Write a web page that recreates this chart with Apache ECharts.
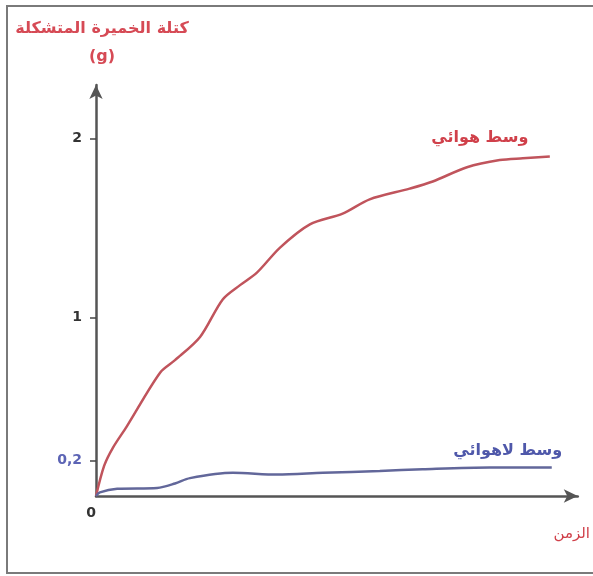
<!DOCTYPE html>
<html><head><meta charset="utf-8">
<script src="https://cdn.jsdelivr.net/npm/echarts@6/dist/echarts.min.js"></script>
<style>html,body{margin:0;padding:0;background:#fff}#c{width:593px;height:576px}</style>
</head><body><div id="c"></div>
<script>
// time (arbitrary units) and yeast mass (g)
const aerobicTime = [0, 1.7, 3.5, 6.4, 13.3, 16.4, 21.6, 26.3, 29.9, 33.4, 38.2, 44.4, 51.2, 56.8, 65.1, 69.9, 77.0, 83.8, 88.6, 94.2];
const aerobicMass = [0, 0.17, 0.27, 0.39, 0.69, 0.76, 0.89, 1.10, 1.18, 1.25, 1.39, 1.52, 1.58, 1.66, 1.72, 1.76, 1.84, 1.88, 1.89, 1.90];
const anaerobicTime = [0, 0.8, 4.4, 12.7, 16.4, 19.5, 28.4, 37.6, 47.1, 58.9, 67.8, 81.7, 94.6];
const anaerobicMass = [0, 0.02, 0.04, 0.045, 0.07, 0.10, 0.13, 0.12, 0.13, 0.14, 0.15, 0.16, 0.16];
const yTickValues = [0.2, 1, 2];
const yTickLabels = {0.2: '0,2', 1: '1', 2: '2'};
const aerobicName = 'وسط هوائي';
const anaerobicName = 'وسط لاهوائي';
const yAxisTitle = 'كتلة الخميرة المتشكلة\n(g)';
const xAxisTitle = 'الزمن';

const zip = (a, b) => a.map((v, i) => [v, b[i]]);
const FONT = 'DejaVu Sans';
const chart = echarts.init(document.getElementById('c'));
chart.setOption({
  animation: false,
  backgroundColor: '#fff',
  graphic: [{
    type: 'rect', shape: {x: 7, y: 6, width: 600, height: 567},
    style: {fill: 'none', stroke: '#7a7a7a', lineWidth: 2}
  }],
  grid: {left: 96, right: 15, top: 85, bottom: 80},
  xAxis: {
    type: 'value', min: 0, max: 100,
    name: xAxisTitle, nameLocation: 'end', nameGap: -6,
    nameTextStyle: {color: '#d0404a', fontFamily: FONT, fontSize: 15, align: 'center', verticalAlign: 'top', padding: [31, 0, 0, 0]},
    axisLine: {lineStyle: {color: '#555', width: 2.5}, symbol: ['none', 'arrow'], symbolSize: [10, 14]},
    axisTick: {show: false},
    axisLabel: {customValues: [0], align: 'right', margin: 10, color: '#333', fontWeight: 'bold', fontFamily: FONT, fontSize: 14, formatter: v => String(v)},
    splitLine: {show: false}
  },
  yAxis: {
    type: 'value', min: 0, max: 2.3,
    name: yAxisTitle, nameLocation: 'end', nameGap: 14,
    nameTextStyle: {color: '#d64a55', fontFamily: FONT, fontWeight: 'bold', fontSize: 16, lineHeight: 28, align: 'center', padding: [0, 0, 0, 12]},
    axisLine: {lineStyle: {color: '#555', width: 2.5}, symbol: ['none', 'arrow'], symbolSize: [10, 14]},
    axisTick: {customValues: yTickValues, length: 6, lineStyle: {color: '#444', width: 1.5}},
    axisLabel: {
      customValues: yTickValues, margin: 14, fontFamily: FONT, fontWeight: 'bold', fontSize: 14,
      formatter: v => v === 0.2 ? '{b|' + yTickLabels[v] + '}' : '{k|' + yTickLabels[v] + '}',
      rich: {b: {color: '#5c64b5', fontWeight: 'bold', fontFamily: FONT, fontSize: 14},
             k: {color: '#333', fontWeight: 'bold', fontFamily: FONT, fontSize: 14}}
    },
    splitLine: {show: false}
  },
  series: [{
    name: aerobicName, type: 'line', data: zip(aerobicTime, aerobicMass),
    smooth: 0.3, symbol: 'none',
    lineStyle: {color: '#c0545c', width: 2.5},
    endLabel: {show: true, formatter: '{a}', color: '#d0404a', fontFamily: FONT, fontWeight: 'bold', fontSize: 16, align: 'center', offset: [-78, -19]}
  }, {
    name: anaerobicName, type: 'line', data: zip(anaerobicTime, anaerobicMass),
    smooth: 0.3, symbol: 'none',
    lineStyle: {color: '#62679a', width: 2.5},
    endLabel: {show: true, formatter: '{a}', color: '#4f58aa', fontFamily: FONT, fontWeight: 'bold', fontSize: 16, align: 'center', offset: [-52, -17]}
  }]
});
</script></body></html>
